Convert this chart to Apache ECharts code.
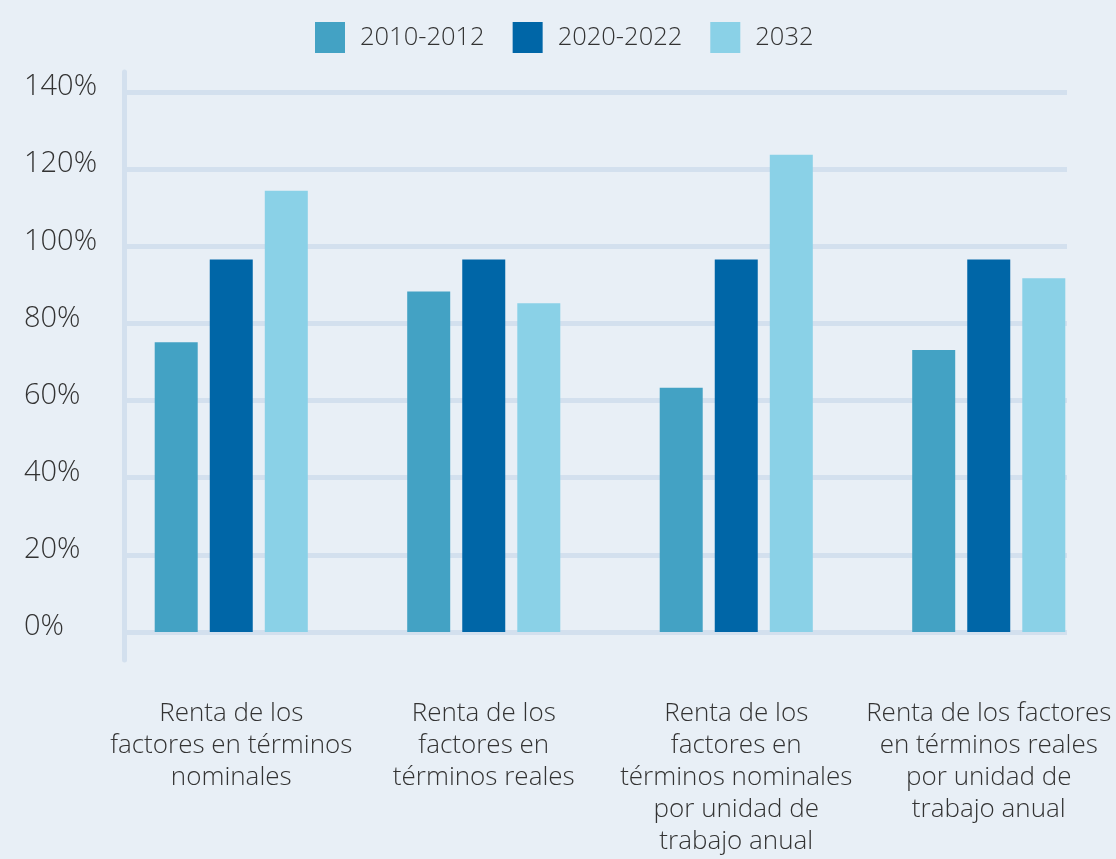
<!DOCTYPE html>
<html>
<head>
<meta charset="utf-8">
<script src="https://cdn.jsdelivr.net/npm/echarts@6/dist/echarts.min.js"></script>
<style>
  html, body { margin: 0; padding: 0; background: #e8eff6; }
  #container { width: 1116px; height: 859px; }
</style>
</head>
<body>
<div id="container"></div>
<script>
// categories (x axis)
const categories = [
  'Renta de los\nfactores en términos\nnominales',
  'Renta de los\nfactores en\ntérminos reales',
  'Renta de los\nfactores en\ntérminos nominales\npor unidad de\ntrabajo anual',
  'Renta de los factores\nen términos reales\npor unidad de\ntrabajo anual'
]
const seriesNames = ['2010-2012', '2020-2022', '2032']
// values in %
const v2010 = [75.1, 88.3, 63.3, 73.1]
const v2020 = [96.6, 96.6, 96.6, 96.6]
const v2032 = [114.4, 85.2, 123.7, 91.7]
const yTicks = [0, 20, 40, 60, 80, 100, 120, 140]

const colors = ['#43a2c4', '#0066a7', '#8ad1e7']
const font = 'Open Sans'
const gridColor = '#d3e0ee'

const myChart = echarts.init(document.getElementById('container'))

myChart.setOption({
  backgroundColor: '#e8eff6',
  textStyle: { fontFamily: font },
  legend: {
    top: 17,
    left: 310,
    icon: 'rect',
    itemWidth: 30,
    itemHeight: 31,
    itemGap: 28,
    textStyle: { fontSize: 25.5, color: '#333', fontFamily: font, fontWeight: 300, padding: [0, 0, 0, 10] },
    data: seriesNames
  },
  grid: [
    // bars
    { left: 105, right: 1, top: 92, bottom: 227 },
    // y labels + gridlines
    { left: 127, right: 49, top: 92, bottom: 227 },
    // axis line only
    { left: 124, right: 49, top: 72, bottom: 199 }
  ],
  xAxis: [
    {
      gridIndex: 0,
      type: 'category',
      data: categories,
      axisLine: { show: false },
      axisTick: { show: false },
      axisLabel: {
        margin: 66,
        fontSize: 26,
        lineHeight: 32,
        color: '#333',
        fontFamily: font,
        fontWeight: 300,
        interval: 0,
        verticalAlign: 'top'
      }
    },
    { gridIndex: 1, type: 'value', show: false },
    { gridIndex: 2, type: 'value', show: false }
  ],
  yAxis: [
    { gridIndex: 0, type: 'value', min: 0, max: 140, interval: 20, show: false },
    {
      gridIndex: 1,
      type: 'value',
      min: 0,
      max: 140,
      interval: 20,
      axisLine: { show: false },
      axisTick: { show: false },
      splitLine: { lineStyle: { color: gridColor, width: 5 } },
      axisLabel: {
        margin: 103,
        align: 'left',
        verticalAlign: 'bottom',
        lineHeight: 10,
        fontSize: 29,
        color: '#333',
        fontFamily: font,
        fontWeight: 300,
        formatter: v => yTicks.includes(v) ? v + '%' : ''
      }
    },
    {
      gridIndex: 2,
      type: 'value',
      min: 0,
      max: 1,
      axisLine: { show: true, lineStyle: { color: gridColor, width: 5 } },
      axisTick: { show: false },
      axisLabel: { show: false },
      splitLine: { show: false }
    }
  ],
  series: [
    { name: seriesNames[0], type: 'bar', data: v2010, barWidth: 43, barGap: '28%', itemStyle: { color: colors[0] }, z: 3 },
    { name: seriesNames[1], type: 'bar', data: v2020, barWidth: 43, barGap: '28%', itemStyle: { color: colors[1] }, z: 3 },
    { name: seriesNames[2], type: 'bar', data: v2032, barWidth: 43, barGap: '28%', itemStyle: { color: colors[2] }, z: 3 }
  ]
})
</script>
</body>
</html>
